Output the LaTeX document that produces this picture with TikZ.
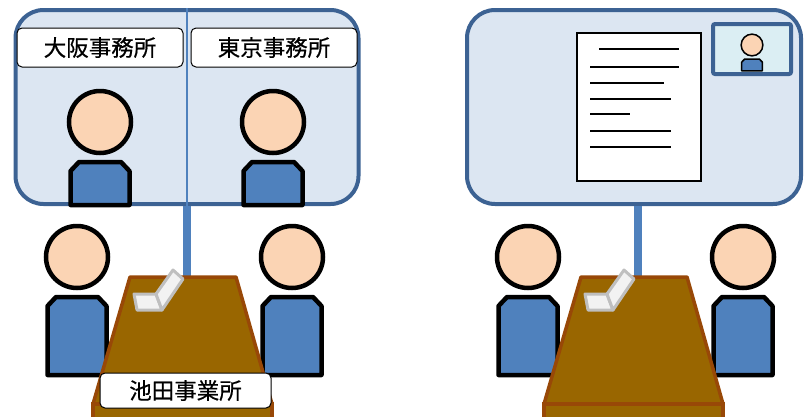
\documentclass[tikz,border=0pt]{standalone}
\usepackage{fontspec}
\newfontfamily\jpfont[FakeBold=0.6]{Noto Sans CJK JP}
\usepackage{tikz}
\usetikzlibrary{positioning}
\definecolor{screenfill}{HTML}{DCE6F2}
\definecolor{screenedge}{HTML}{3C6293}
\definecolor{cableblue}{HTML}{4F81BD}
\definecolor{skin}{HTML}{FBD4B4}
\definecolor{shirt}{HTML}{4F81BD}
\definecolor{deskfill}{HTML}{996600}
\definecolor{deskedge}{HTML}{984807}
\definecolor{lapedge}{HTML}{BFBFBF}
\definecolor{lapfill}{HTML}{F2F2F2}
\definecolor{camfill}{HTML}{DBEEF3}
\tikzset{
    screen/.style = {
        draw = screenedge, fill = screenfill,
        line width = 4pt, rounded corners = 28pt,
        inner sep = 0pt
    },
    place/.style = {
        draw, fill = white, line width = 1pt,
        rounded corners = 5pt, inner sep = 0pt,
        font = \jpfont\fontsize{22.5}{26}\selectfont
    },
    cam/.style = {
        draw = screenedge, fill = camfill,
        line width = 4pt, rounded corners = 2pt
    },
    cable/.style = {draw = cableblue, line width = 8.5pt},
    figure/.style = {line width = 4.5pt},
    textline/.style = {line width = 2pt},
    pics/person/.style = {code = {
        \draw[fill = skin] (0,0) circle (31);
        \draw[fill = shirt, line join = round] (-29.5,#1) -- (-29.5,49) -- (-21,40)
            -- (21,40) -- (29.5,49) -- (29.5,#1) -- cycle;
    }},
    pics/desk/.style = {code = {
        \draw[draw = deskedge, fill = deskfill, line width = 3.5pt, line join = round]
            (-53,0) -- (53,0) -- (89,127) -- (-90,127) -- cycle;
        \draw[draw = deskedge, fill = deskfill, line width = 3.5pt]
            (-90,127) rectangle (89,142);
        % laptop on the desk
        \draw[draw = lapedge, fill = lapfill, line width = 3pt, line join = round]
            (-49,17) -- (-27,17) -- (-21,33) -- (-46,33) -- cycle;
        \draw[draw = lapedge, fill = lapfill, line width = 3pt, line join = round]
            (-27,17) -- (-10,-7) -- (0,2) -- (-21,33) -- cycle;
    }}
}

\begin{document}
\begin{tikzpicture}[x = 1pt, y = -1pt]

    \useasboundingbox (0,0) rectangle (805,416);

    \coordinate (leftDesk) at (183,277);
    \coordinate (rightDesk) at (634,277);

    % Screens
    \node[screen, minimum width = 343pt, minimum height = 194pt] (leftScreen) at (187,107) {};
    \node[screen, minimum width = 334pt, minimum height = 194pt] (rightScreen) at (634,107) {};

    % Cables
    \draw[cable] (leftScreen.south) -- (leftScreen.south |- leftDesk);
    \draw[cable] ([xshift = 4pt]rightScreen.south) -- ([xshift = 4pt]rightScreen.south |- rightDesk);

    % Split view: Osaka | Tokyo
    \draw[cableblue, line width = 1.5pt] (leftScreen.north) -- (leftScreen.south);
    \node[place, minimum width = 166pt, minimum height = 39pt] (osaka) at (100,47.5) {大阪事務所};
    \node[place, minimum width = 166pt, minimum height = 39pt] (tokyo) at (274,47.5) {東京事務所};
    \pic[figure] (osakaStaff) at (100,122) {person = 83};
    \pic[figure] (tokyoStaff) at (273,122) {person = 83};

    % Shared document + camera window
    \node[draw, fill = white, line width = 2pt, minimum width = 124pt, minimum height = 148pt] (handout) at (639,107) {};
    \foreach \ya/\xa/\xb in {49/599/679, 67/590/679, 83/590/664, 99/590/671,
                             114/590/630, 131/590/671, 147/590/671}
        \draw[textline] (\xa,\ya) -- (\xb,\ya);
    \node[cam, minimum width = 78pt, minimum height = 50pt] (webcam) at (752,49) {};
    \pic[line width = 1.5pt, scale = 0.35] (guest) at (752,45) {person = 74};

    % Meeting rooms
    \pic[figure] (leftA) at (77,257) {person = 118};
    \pic[figure] (leftB) at (292,257) {person = 118};
    \pic (leftTable) at (leftDesk) {desk};
    \pic[figure] (rightA) at (528,257) {person = 118};
    \pic[figure] (rightB) at (743,257) {person = 118};
    \pic (rightTable) at (rightDesk) {desk};

    \node[place, minimum width = 171pt, minimum height = 35pt] (ikeda) at (185.5,390.5) {池田事業所};

\end{tikzpicture}
\end{document}
